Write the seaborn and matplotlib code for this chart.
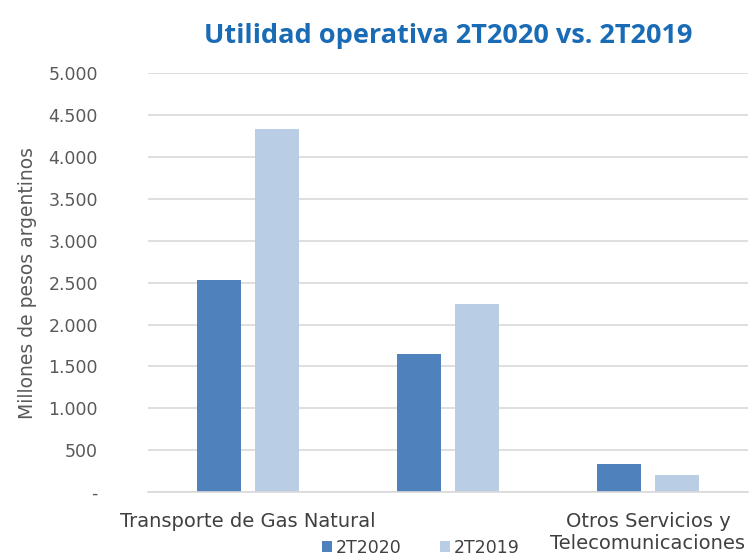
import pandas as pd
import matplotlib.pyplot as plt
import seaborn as sns
from matplotlib.ticker import FuncFormatter, MultipleLocator

# Data (millones de pesos argentinos)
segments = ["Transporte de Gas Natural", "Producción y Comercialización de Líquidos",
            "Otros Servicios y\nTelecomunicaciones"]
tick_labels = ["Transporte de Gas Natural", "", "Otros Servicios y\nTelecomunicaciones"]
periods = ["2T2020", "2T2019"]
values_2t2020 = [2530, 1647, 334]
values_2t2019 = [4332, 2243, 203]
colors = ["#4F81BD", "#B9CDE5"]

df = pd.DataFrame({
    "segment": segments * 2,
    "period": [periods[0]] * 3 + [periods[1]] * 3,
    "value": values_2t2020 + values_2t2019,
})

sns.set_theme(style="white")
plt.rcParams["font.family"] = ["DejaVu Sans"]

fig = plt.figure(figsize=(7.51, 5.58), dpi=100)
ax = fig.add_axes([0.197, 0.118, 0.799, 0.751])

sns.barplot(data=df, x="segment", y="value", hue="period", palette=colors,
            width=0.58, gap=0.24, saturation=1, linewidth=0, ax=ax, legend=True)

ax.set_ylim(0, 5000)
ax.set_xlim(-0.5, 2.5)
ax.yaxis.set_major_locator(MultipleLocator(500))
ax.yaxis.set_major_formatter(FuncFormatter(
    lambda v, p: "-" if v == 0 else f"{int(v):,}".replace(",", ".")))
ax.grid(axis="y", color="#D9D9D9", linewidth=1.2)
ax.set_axisbelow(True)
for side in ["top", "right", "left"]:
    ax.spines[side].set_visible(False)
ax.spines["bottom"].set_color("#D9D9D9")
ax.spines["bottom"].set_linewidth(1.2)

ax.set_xticks(range(3))
ax.set_xticklabels(tick_labels, fontsize=14, color="#404040", va="top", linespacing=1.25)
ax.tick_params(axis="x", length=0, pad=14)
ax.tick_params(axis="y", length=0, labelsize=12.5, labelcolor="#595959", pad=36)
ax.set_xlabel("")
ax.set_ylabel("Millones de pesos argentinos", fontsize=13.5, color="#595959", labelpad=8)

ax.set_title("Utilidad operativa 2T2020 vs. 2T2019", fontsize=19.5, fontweight="bold",
             color="#1A6BB5", family=["Open Sans", "DejaVu Sans"], pad=22)

handles, labels = ax.get_legend_handles_labels()
ax.legend_.remove()
fig.legend(handles, labels, loc="center", bbox_to_anchor=(0.56, 0.018), ncol=2,
           frameon=False, fontsize=12.5, handlelength=0.6, handleheight=0.6,
           handletextpad=0.2, columnspacing=2.2, labelcolor="#404040")

fig.savefig("out.png", dpi=100)
